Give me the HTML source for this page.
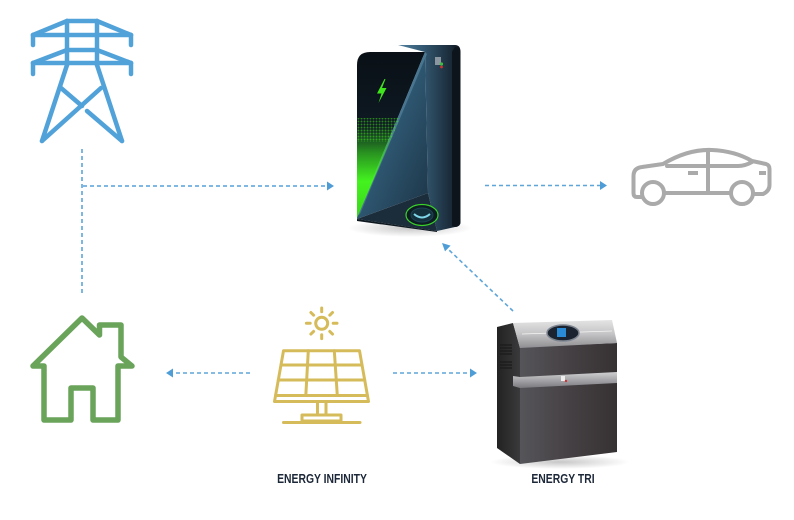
<!DOCTYPE html>
<html>
<head>
<meta charset="utf-8">
<style>
  html,body{margin:0;padding:0;background:#fff;}
  body{width:794px;height:520px;overflow:hidden;position:relative;}
  svg{position:absolute;left:0;top:0;}
  .lbl{position:absolute;font-family:"Liberation Sans",sans-serif;font-weight:bold;font-size:12.5px;color:#1c2738;white-space:nowrap;transform:translateX(-50%) scaleX(0.83);transform-origin:center;}
</style>
</head>
<body>
<svg width="794" height="520" viewBox="0 0 794 520" xmlns="http://www.w3.org/2000/svg">
  <defs>
    <linearGradient id="gGreen" x1="0" y1="0" x2="0" y2="1">
      <stop offset="0" stop-color="#39e81a" stop-opacity="0"/>
      <stop offset="0.3" stop-color="#3be61c" stop-opacity="0.6"/>
      <stop offset="0.6" stop-color="#44f31f" stop-opacity="1"/>
      <stop offset="1" stop-color="#3ad41c" stop-opacity="1"/>
    </linearGradient>
    <linearGradient id="gFront" x1="0" y1="0" x2="1" y2="1">
      <stop offset="0" stop-color="#4a7d9a"/>
      <stop offset="0.5" stop-color="#2e5670"/>
      <stop offset="1" stop-color="#1c3446"/>
    </linearGradient>
    <linearGradient id="gSide" x1="0" y1="0" x2="1" y2="0">
      <stop offset="0" stop-color="#4f81a0"/>
      <stop offset="0.45" stop-color="#30536b"/>
      <stop offset="0.85" stop-color="#1a2a38"/>
      <stop offset="1" stop-color="#0c1218"/>
    </linearGradient>
    <linearGradient id="gBlack" x1="0" y1="0" x2="0" y2="1">
      <stop offset="0" stop-color="#0a1016"/>
      <stop offset="0.6" stop-color="#0f1c26"/>
      <stop offset="1" stop-color="#17303a"/>
    </linearGradient>
    <radialGradient id="gShadow" cx="0.5" cy="0.5" r="0.5">
      <stop offset="0" stop-color="#000" stop-opacity="0.22"/>
      <stop offset="1" stop-color="#000" stop-opacity="0"/>
    </radialGradient>
    <linearGradient id="gLid" x1="0" y1="0" x2="0" y2="1">
      <stop offset="0" stop-color="#e4e4e4"/>
      <stop offset="0.5" stop-color="#c4c4c6"/>
      <stop offset="1" stop-color="#8e8e92"/>
    </linearGradient>
    <linearGradient id="gBatFront" x1="0" y1="0" x2="1" y2="0">
      <stop offset="0" stop-color="#55555a"/>
      <stop offset="0.5" stop-color="#464144"/>
      <stop offset="1" stop-color="#363133"/>
    </linearGradient>
    <linearGradient id="gBatSide" x1="0" y1="0" x2="1" y2="0">
      <stop offset="0" stop-color="#222"/>
      <stop offset="1" stop-color="#3a3a3c"/>
    </linearGradient>
    <linearGradient id="gBand" x1="0" y1="0" x2="0" y2="1">
      <stop offset="0" stop-color="#d0d0d2"/>
      <stop offset="0.5" stop-color="#a6a6aa"/>
      <stop offset="1" stop-color="#7a7a7e"/>
    </linearGradient>
    <pattern id="dots" width="3" height="3" patternUnits="userSpaceOnUse">
      <circle cx="1.5" cy="1.5" r="1" fill="#4cff22"/>
    </pattern>
  </defs>

  <!-- ===== Connectors ===== -->
  <g stroke="#5ea5d8" stroke-width="1.6" fill="none" stroke-dasharray="4 3">
    <line x1="82" y1="149" x2="82" y2="293"/>
    <line x1="83" y1="186" x2="328" y2="186" stroke="#7fb8e2" stroke-width="2"/>
    <line x1="485" y1="185.5" x2="601" y2="185.5"/>
    <line x1="250" y1="373" x2="172" y2="373"/>
    <line x1="393" y1="373" x2="471" y2="373"/>
    <line x1="513" y1="311" x2="448" y2="249"/>
  </g>
  <g fill="#4f9dd6">
    <polygon points="327,181.5 334,186 327,190.5"/>
    <polygon points="600,181 607,185.5 600,190"/>
    <polygon points="173,368.5 166,373 173,377.5"/>
    <polygon points="470,368.5 477,373 470,377.5"/>
    <polygon points="442,243 450.6,245.6 445,251.4"/>
  </g>

  <!-- ===== Power tower ===== -->
  <g stroke="#52a2da" stroke-width="4.5" fill="none" stroke-linecap="round" stroke-linejoin="round">
    <line x1="67" y1="21" x2="97" y2="21"/>
    <line x1="67" y1="21" x2="33" y2="35"/>
    <line x1="97" y1="21" x2="131" y2="35"/>
    <line x1="33" y1="35" x2="131" y2="35"/>
    <line x1="33" y1="35" x2="33" y2="45"/>
    <line x1="131" y1="35" x2="131" y2="45"/>
    <line x1="67" y1="21" x2="67" y2="65"/>
    <line x1="97" y1="21" x2="97" y2="65"/>
    <line x1="67" y1="50" x2="97" y2="50"/>
    <line x1="67" y1="50" x2="33" y2="63"/>
    <line x1="97" y1="50" x2="131" y2="63"/>
    <line x1="33" y1="63" x2="131" y2="63"/>
    <line x1="33" y1="63" x2="33" y2="74"/>
    <line x1="131" y1="63" x2="131" y2="74"/>
    <line x1="67" y1="65" x2="42" y2="141"/>
    <line x1="97" y1="65" x2="122" y2="141"/>
    <line x1="61" y1="88" x2="82" y2="106"/>
    <line x1="101" y1="88" x2="42" y2="141"/>
    <line x1="87" y1="111" x2="122" y2="141"/>
  </g>

  <!-- ===== House ===== -->
  <path d="M44,420 V366 H33 L82,318 L99.5,335 V325 H121 V357 L132,366 H118 V420 H93 V388 H71 V420 Z"
        fill="none" stroke="#6aa35a" stroke-width="5.5" stroke-linejoin="round"/>

  <!-- ===== Solar panel ===== -->
  <g stroke="#d6bb5a" stroke-width="3" fill="none" stroke-linecap="round" stroke-linejoin="round">
    <circle cx="321.7" cy="323.3" r="6"/>
    <line x1="321.7" y1="311.8" x2="321.7" y2="308"/>
    <line x1="321.7" y1="334.8" x2="321.7" y2="338.6"/>
    <line x1="310.2" y1="323.3" x2="306.4" y2="323.3"/>
    <line x1="333.2" y1="323.3" x2="337" y2="323.3"/>
    <line x1="313.6" y1="315.2" x2="310.9" y2="312.5"/>
    <line x1="329.8" y1="315.2" x2="332.5" y2="312.5"/>
    <line x1="313.6" y1="331.4" x2="310.9" y2="334.1"/>
    <line x1="329.8" y1="331.4" x2="332.5" y2="334.1"/>
    <path d="M283.5,350.7 H359.5 L368.5,401.5 H274.5 Z"/>
    <line x1="281" y1="365" x2="362" y2="365"/>
    <line x1="278.3" y1="380" x2="364.7" y2="380"/>
    <line x1="275.6" y1="395.5" x2="367.4" y2="395.5"/>
    <line x1="308.3" y1="350.7" x2="305.8" y2="395.5"/>
    <line x1="334.3" y1="350.7" x2="337.3" y2="395.5"/>
    <line x1="317.5" y1="401.5" x2="317.5" y2="415"/>
    <line x1="326" y1="401.5" x2="326" y2="415"/>
    <rect x="302" y="415" width="39" height="6"/>
    <line x1="283.5" y1="422.5" x2="360" y2="422.5"/>
  </g>

  <!-- ===== Charger ===== -->
  <ellipse cx="410" cy="228" rx="62" ry="9" fill="url(#gShadow)"/>
  <path d="M398,45 H455 Q460.5,45 460.5,52 V222 Q460.5,226 455,227 L437,231 L428,193 L425,52 Z" fill="url(#gSide)"/>
  <path d="M455,47 Q460.5,47 460.5,54 V222 Q460.5,226 456,227 L452,226 V52 Z" fill="#0d141b"/>
  <path d="M357,65 Q357,52 370,52 H425 L357,216 Z" fill="url(#gBlack)"/>
  <path d="M425,52 L428,193 L357,219 L357,216 Z" fill="url(#gFront)"/>
  <path d="M425,52 L427,54 L360,214 L357,216 Z" fill="#5a8aa6" opacity="0.6"/>
  <path d="M357,126 L396.5,126 L357,218 Z" fill="url(#gGreen)"/>
  <path d="M357,118 L400,118 L390,142 L357,142 Z" fill="url(#dots)" opacity="0.45"/>
  <path d="M357,219 L428,193 L437,231 Z" fill="#1b2c3a"/>
  <path d="M357,219 L437,231 L437,232 L357,221 Z" fill="#0d1820"/>
  <ellipse cx="422" cy="215" rx="16" ry="10.5" fill="#0e1c24" stroke="#3ad12a" stroke-width="1.2"/>
  <ellipse cx="422" cy="215" rx="11" ry="7" fill="#13303c" stroke="#1d4452" stroke-width="1"/>
  <path d="M414,214 Q422,221 430,214" stroke="#7fd6e8" stroke-width="2" fill="none"/>
  <polygon points="384.5,79 377,93.5 381.5,93.5 378.5,103 386.5,88 382,88 385.5,79" fill="#3fe61c"/>
  <rect x="435" y="57" width="6" height="8" fill="#8a96a0"/>
  <circle cx="441.5" cy="64" r="1.6" fill="#3fbf3f"/>
  <circle cx="441.5" cy="67" r="1.4" fill="#d23030"/>

  <!-- ===== Car ===== -->
  <g stroke="#aaaaaa" stroke-width="4" fill="none" stroke-linejoin="round" stroke-linecap="round">
    <path d="M641,197 H637 Q633.5,197 633.5,193 V176 Q633.5,168 642,167 L663,164 Q688,149 712,150 Q735,151 752,161 L766,164 Q769.5,165 769.5,169 V185 Q769.5,191 763,194 H754"/>
    <line x1="665" y1="193" x2="730" y2="193"/>
    <path d="M667,166 H738 Q745,166 752,162"/>
    <line x1="708" y1="151" x2="708" y2="193"/>
    <circle cx="653" cy="193" r="11" fill="#fff"/>
    <circle cx="742" cy="193" r="11" fill="#fff"/>
  </g>
  <rect x="688" y="171" width="10" height="4" fill="#aaaaaa"/>
  <rect x="759" y="171" width="7" height="4" fill="#aaaaaa"/>

  <!-- ===== Battery (Energy TRI) ===== -->
  <ellipse cx="560" cy="462" rx="70" ry="7" fill="url(#gShadow)"/>
  <path d="M497,327 L513,323 L520,348 L520,464 L497,448 Z" fill="url(#gBatSide)"/>
  <g stroke="#1a1a1a" stroke-width="1.2">
    <line x1="500" y1="345" x2="512" y2="345"/>
    <line x1="500" y1="348" x2="512" y2="348"/>
    <line x1="500" y1="351" x2="512" y2="351"/>
    <line x1="500" y1="354" x2="512" y2="354"/>
    <line x1="500" y1="362" x2="512" y2="362"/>
    <line x1="500" y1="365" x2="512" y2="365"/>
    <line x1="500" y1="368" x2="512" y2="368"/>
  </g>
  <path d="M520,347 L617,343 L617,452 L520,464 Z" fill="url(#gBatFront)"/>
  <path d="M513,323 L612,320 L617,343 L520,348 Z" fill="url(#gLid)"/>
  <line x1="522" y1="334" x2="612" y2="331" stroke="#f4f4f4" stroke-width="0.8"/>
  <ellipse cx="563" cy="333" rx="16" ry="8" fill="#1b2330" stroke="#7d8590" stroke-width="1.5"/>
  <rect x="557" y="328" width="9" height="9" fill="#2b8ad6"/>
  <path d="M513,376 L520,377 L617,372 L617,383 L520,388 L513,386 Z" fill="url(#gBand)"/>
  <rect x="561" y="376" width="4" height="5" fill="#eee"/>
  <circle cx="566" cy="381" r="1.2" fill="#c33"/>
</svg>

<div class="lbl" style="left:322px;top:472px;">ENERGY INFINITY</div>
<div class="lbl" style="left:563px;top:472px;">ENERGY TRI</div>
</body>
</html>
